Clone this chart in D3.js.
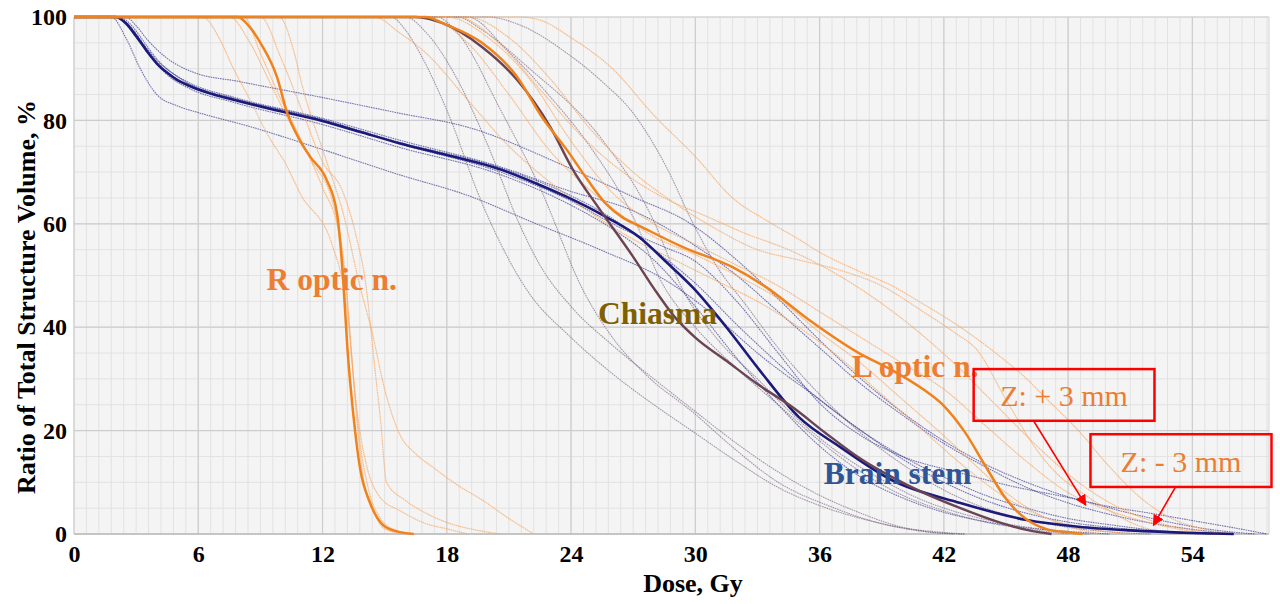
<!DOCTYPE html>
<html>
<head>
<meta charset="utf-8">
<script src="https://cdn.jsdelivr.net/npm/d3@7"></script>
<style>
  html, body { margin: 0; padding: 0; background: #ffffff; }
  svg { display: block; font-family: "Liberation Serif", "Times New Roman", serif; }
</style>
</head>
<body>
<svg id="chart" width="1280" height="604"></svg>
<script>
// ---- axis ticks ----
const doseTicks = [0, 6, 12, 18, 24, 30, 36, 42, 48, 54];
const volumeTicks = [0, 20, 40, 60, 80, 100];
const doseMax = 57.7;

// ---- DVH curves: [dose Gy, volume %] ----
// Brain stem: reference plan + shifted plans
const brainStem = [[0,100],[2.0,100],[2.5,98.8],[3.0,96.3],[3.5,93.5],[4.0,91],[4.5,89.2],[5.0,87.8],[5.5,86.8],[6.5,85.3],[7.7,84],[9.5,82.2],[11.9,80],[13.8,77.8],[15.7,75.6],[18,73.3],[20.6,70.5],[22.2,68],[23.8,65.2],[25.7,61.3],[27.3,57.4],[28.6,52.6],[29.9,47.6],[31.5,40],[33.1,31.7],[35,22.6],[37,16.8],[39.5,10.4],[42.8,6],[46,2.7],[48.5,1.4],[51,0.7],[54,0.2],[56,0]];
const brainStemA = [[0,100],[2.5,100],[3.0,98.3],[3.5,95.8],[4.5,92],[5.7,89.4],[8,87.5],[11.9,84.5],[15.7,81.4],[19,78.7],[23.8,71],[27,65.2],[29.7,60.2],[32,53],[34,45.5],[36,37.5],[38,30],[40,23.5],[42,18],[44,13.5],[46,10],[48,7.2],[50,5.3],[52,4],[54,2.6],[56,1.2],[57.6,0]];
const brainStemB = [[0,100],[1.8,100],[2.5,96],[3.2,90],[4,85],[5,82.8],[6.1,81.4],[8.5,78.8],[11.9,74.5],[15.7,69.5],[19,65.5],[22.2,60.2],[25.4,55],[28.6,49],[31,42],[33,35],[36,26],[38,20],[40,14.5],[42,10],[44,6.5],[46,4],[48,2.3],[50,1.3],[52,0.6],[54,0.1],[55,0]];
const brainStemC = [[0,100],[2.1,100],[2.6,98.6],[3.1,96],[3.6,93],[4.1,90.4],[4.6,88.5],[5.5,86.3],[7.7,83.5],[11.9,79.3],[15.7,74.8],[20.6,69.5],[23.8,64],[26,59],[28,53],[30,44],[32,34],[34,25],[36,17],[38,11],[40,7],[42,4.2],[44,2.4],[46,1.2],[48,0.5],[50,0]];
const brainStemD = [[0,100],[2.0,100],[2.5,98.9],[3.0,96.6],[3.5,94],[4.0,91.6],[4.6,89.6],[5.5,87.4],[7.7,84.5],[11.9,80.5],[15.7,76.2],[20.6,71],[23.8,66.5],[27,62.5],[29.9,56],[32,50],[34,43],[36,36],[38,29],[40,23],[42,17.5],[44,13],[46,9],[48,6],[50,3.8],[52,2.1],[54,0.9],[56,0]];
const brainStemE = [[0,100],[2.1,100],[2.6,98.7],[3.1,96.2],[3.6,93.3],[4.1,90.8],[4.6,89],[5.5,86.8],[7.7,84.2],[11.9,80.2],[15.7,75.8],[20.6,70.8],[23.8,65.8],[26,61],[28,55],[30,48.5],[32,40.5],[34,33],[36,26],[38,20],[40,15],[42,11],[44,7.5],[46,5],[48,3],[50,1.8],[52,0.8],[54,0.2],[55,0]];
const brainStemF = [[0,100],[2.2,100],[2.7,98.7],[3.2,96.2],[3.7,93.4],[4.2,91],[4.8,89],[5.5,87.2],[7.7,84.3],[11.9,80.3],[15.7,75.5],[20.6,70],[23.8,64.8],[26.5,59],[28.5,55.5],[29.9,53],[32,45],[34,35],[36,25.3],[38,19],[40,15],[42.8,11.8],[45,9.5],[48.5,6.6],[51,4],[53,2.2],[55,0.8],[57,0]];

// Chiasma
const chiasma = [[0,100],[16.5,100],[17.8,98.8],[19.7,94.2],[21.4,87.8],[23,78.7],[24.1,70.4],[25.4,62.7],[27,53.6],[28,47.5],[29,42],[30,38],[31.5,33.5],[33,29],[34.7,24.5],[36.3,19.5],[38,14.5],[39.5,11],[41,8],[42.8,5],[44.5,2.5],[46,0.8],[47.2,0]];
const chiasmaA = [[0,100],[15.3,100],[16,97.5],[16.7,93],[18,82],[19.7,64],[21.9,47],[24,38],[26,31],[28,25],[30,19.5],[32,14],[34,9],[36,5.5],[38,3],[40,1.2],[42,0.3],[43,0]];
const chiasmaB = [[0,100],[17.5,100],[18.5,97],[20.6,82],[22.5,67],[24.6,47],[26,38],[27.7,30.5],[29.9,23.5],[31.8,16.8],[34,10],[36.6,5.2],[39,2],[41,0.5],[42.5,0]];
const chiasmaC = [[0,100],[19,100],[20.9,93.6],[22.9,85],[24.8,75.6],[27,61.3],[28.4,48.5],[30,40],[32,32],[34,25],[36,18],[38,12],[40,7.5],[42,4.5],[44,2.3],[46,1],[48,0]];
const chiasmaD = [[0,100],[20,100],[21.5,98.5],[23.8,93],[25.5,87.5],[27,81.4],[28.6,71],[29.9,60],[31,52],[32.5,44],[34,36],[36,27],[38,19.5],[40,13.5],[42,8.5],[44,5],[46,2.8],[48,1.3],[50,0.4],[52,0]];
const chiasmaE = [[0,100],[18.5,100],[19.7,97.5],[22,90],[25.4,76.8],[27.9,61.3],[29.4,47.2],[31,38],[33,30],[35,22],[37,15.5],[39,10.5],[41,6.5],[43,3.8],[45,2],[47,0.8],[49,0]];
const chiasmaF = [[0,100],[16,100],[17,97],[18.5,88],[20,75],[21.5,60],[22.5,52],[24,44],[26,36.5],[28,30],[29.9,24],[32,17.5],[34,12],[36,7.5],[38,4],[39.9,1.4],[41.5,0.3],[43,0]];

// Right optic nerve
const rOptic = [[0,100],[7.9,100],[8.5,98],[9,95],[9.8,88.4],[10.3,81.4],[10.9,76.2],[11.4,73],[12.2,68.5],[12.7,62],[13,49],[13.2,36],[13.5,22.6],[13.8,13],[14.3,6],[14.9,1.8],[15.5,0.6],[16.4,0]];
const rOpticA = [[0,100],[6.2,100],[7,96],[7.7,90],[8.5,84],[9.3,77.6],[10.3,71],[10.9,66],[12.5,55.5],[13.2,42.7],[13.5,30],[13.8,18],[14.2,9],[14.8,3],[15.5,0.8],[16.5,0]];
const rOpticB = [[0,100],[9.9,100],[10.6,93.6],[11,87],[12.2,72],[13,62],[13.8,48],[14.4,38.9],[15,28],[15.7,19.5],[16.5,15.5],[17.3,13],[18.5,9.5],[19.7,6.6],[21,3],[22.2,0]];
const rOpticC = [[0,100],[9,100],[10,92],[11,82],[12,72],[13,66],[13.6,58],[14.1,48],[14.5,33],[14.8,22],[15.1,9.9],[16,6.5],[17,4],[18.1,2.1],[19.5,0.7],[20.6,0]];
const rOpticD = [[0,100],[8.2,100],[9,93],[10,84],[11,76],[12,67],[12.8,58],[13.2,45],[13.5,30],[13.8,20],[14.1,13.7],[14.8,7],[15.7,4.6],[17,2],[18,1],[19,0]];
const rOpticE = [[0,100],[7.5,100],[8.5,95],[9.5,87],[10.5,79],[11.5,72],[12.5,64],[13.1,50],[13.4,35],[13.7,20],[14,10],[14.5,4],[15,1],[16,0]];

// Left optic nerve
const lOptic = [[0,100],[17,100],[17.8,98.8],[19.7,95],[21.4,88.4],[22.6,80.6],[23.8,74.3],[24.8,68.5],[25.7,63.8],[26.5,61.2],[27.3,59.6],[29.4,55.5],[31.8,51.6],[33.4,47.8],[35.5,41.4],[37.9,35],[39.5,31.7],[41,28],[42,24.8],[43,19.8],[44,13.2],[45,6.8],[46,2.8],[47,0.9],[48,0.3],[48.7,0]];
const lOpticA = [[0,100],[21.5,100],[22.5,99.4],[24,96],[26,90],[28,81],[30,73],[31.8,65],[33.5,60.5],[35,57],[36,54.5],[37.8,51],[39.5,48],[41,44.5],[42.8,40],[44.5,35],[46,30],[47,26],[48.5,20],[50,13],[51.5,7],[53,3],[54.5,1],[56,0]];
const lOpticB = [[0,100],[19,100],[21,96],[23,88],[25,78],[27,70],[29,64],[31,59],[33,55],[35,53],[37,51],[39,48],[41,43],[42.5,39],[43.6,35.6],[45,26],[46.5,16.2],[47.5,11.5],[48.7,7.9],[50,4.5],[51.1,2.1],[53,0]];
const lOpticC = [[0,100],[18,100],[20,96],[22,88],[24,76],[26,66],[28,60],[30,56],[32,52],[34,48],[36,43],[38,38],[40,33],[42,28],[44,21],[46,14],[48,8],[50,4.5],[52,2.1],[54,0.5],[55,0]];
const lOpticD = [[0,100],[14.5,100],[15.7,97],[17,93],[19,84],[21,75],[23,68],[25,62],[27,57],[29,53],[31,49],[33,45],[35,40],[37,34],[39,27],[41,20],[43,13],[45,7],[47,3],[49,1],[51,0]];
const lOpticE = [[0,100],[17,100],[19,95],[21,85],[23,74],[24.5,68],[26,63],[28,57.5],[30,54],[32,50],[34,45.5],[36,39],[38,33],[40,26],[42,19],[43.6,13],[45,8],[46.5,4],[48,1.5],[49.5,0]];
const lOpticF = [[0,100],[18.5,100],[20.5,95],[22.5,86],[24.5,77],[26.5,70],[28.5,65],[30.5,61.5],[32.5,58],[34.5,55],[36.5,51],[38.5,46],[40.5,40],[42.5,33],[44.5,25],[46.5,17],[48.5,10],[50.5,5],[52.5,2],[54.5,0.5],[56,0]];

// Structure labels: [text, dose, volume]
const structureLabels = [
  ["R optic n.", 9.3, 47.2],
  ["Chiasma", 25.3, 40.6],
  ["L optic n.", 37.55, 30.4],
  ["Brain stem", 36.2, 9.7]
];
// Shift callouts: [text, box dose0, box vol0, box dose1, box vol1, arrow from (dose, vol), arrow to (dose, vol)]
const shiftNotes = [
  ["Z: + 3 mm", 43.44, 31.9, 52.17, 21.9, 46.33, 21.9, 48.85, 5.6],
  ["Z: - 3 mm", 49.08, 19.3, 57.82, 9.1, 53.19, 9.1, 52.12, 1.7]
];

// ---- layout ----
const svg = d3.select("#chart");
const x = d3.scaleLinear().domain([0, doseMax]).range([74, 1269]);
const y = d3.scaleLinear().domain([0, 100]).range([534, 17]);

// plot background
svg.append("rect")
  .attr("x", x(0)).attr("y", y(100))
  .attr("width", x(doseMax) - x(0)).attr("height", y(0) - y(100))
  .attr("fill", "#f4f4f4");

// grid
const grid = svg.append("g");
const minorX = d3.range(0, doseMax + 0.01, 0.6);
const minorY = d3.range(0, 100.1, 5);
grid.selectAll(".mx").data(minorX).join("line")
  .attr("x1", d => x(d)).attr("x2", d => x(d))
  .attr("y1", y(0)).attr("y2", y(100))
  .attr("stroke", "#e2e2e2").attr("stroke-width", 1);
grid.selectAll(".my").data(minorY).join("line")
  .attr("x1", x(0)).attr("x2", x(doseMax))
  .attr("y1", d => y(d)).attr("y2", d => y(d))
  .attr("stroke", "#e2e2e2").attr("stroke-width", 1);
grid.selectAll(".Mx").data(doseTicks).join("line")
  .attr("x1", d => x(d)).attr("x2", d => x(d))
  .attr("y1", y(0)).attr("y2", y(100))
  .attr("stroke", "#cdcdcd").attr("stroke-width", 1.2);
grid.selectAll(".My").data(volumeTicks).join("line")
  .attr("x1", x(0)).attr("x2", x(doseMax))
  .attr("y1", d => y(d)).attr("y2", d => y(d))
  .attr("stroke", "#cdcdcd").attr("stroke-width", 1.2);
grid.append("line")
  .attr("x1", x(0)).attr("x2", x(doseMax)).attr("y1", y(0)).attr("y2", y(0))
  .attr("stroke", "#bdbdbd").attr("stroke-width", 1.5);
grid.append("line")
  .attr("x1", x(doseMax)).attr("x2", x(doseMax)).attr("y1", y(0)).attr("y2", y(100))
  .attr("stroke", "#d4d4d4").attr("stroke-width", 1);

// curves
const line = d3.line().x(d => x(d[0])).y(d => y(d[1])).curve(d3.curveMonotoneX);
const styles = {
  bsThin:  { stroke: "#2e2e8c", width: 1.1, opacity: 0.65, dash: "1.6,0.8" },
  chThin:  { stroke: "#6e5a78", width: 1.1, opacity: 0.6,  dash: "1.6,0.8" },
  onThin:  { stroke: "#f6a560", width: 1.2, opacity: 0.7,  dash: "1.6,0.6" },
  bs:      { stroke: "#1b1a7a", width: 2.6, opacity: 1 },
  ch:      { stroke: "#6a4452", width: 2.4, opacity: 1 },
  on:      { stroke: "#f0821c", width: 2.5, opacity: 1 }
};
const curves = [
  [brainStemA, "bsThin"], [brainStemB, "bsThin"], [brainStemC, "bsThin"],
  [brainStemD, "bsThin"], [brainStemE, "bsThin"], [brainStemF, "bsThin"],
  [chiasmaA, "chThin"], [chiasmaB, "chThin"], [chiasmaC, "chThin"],
  [chiasmaD, "chThin"], [chiasmaE, "chThin"], [chiasmaF, "chThin"],
  [rOpticA, "onThin"], [rOpticB, "onThin"], [rOpticC, "onThin"],
  [rOpticD, "onThin"], [rOpticE, "onThin"],
  [lOpticA, "onThin"], [lOpticB, "onThin"], [lOpticC, "onThin"],
  [lOpticD, "onThin"], [lOpticE, "onThin"], [lOpticF, "onThin"],
  [brainStem, "bs"], [chiasma, "ch"], [rOptic, "on"], [lOptic, "on"]
];
const curveLayer = svg.append("g");
curves.forEach(([data, key]) => {
  const s = styles[key];
  const p = curveLayer.append("path")
    .attr("d", line(data))
    .attr("fill", "none")
    .attr("stroke", s.stroke)
    .attr("stroke-width", s.width)
    .attr("stroke-opacity", s.opacity)
    .attr("stroke-linejoin", "round");
  if (s.dash) p.attr("stroke-dasharray", s.dash);
});

// axes
const xAxis = d3.axisBottom(x).tickValues(doseTicks).tickSize(0).tickPadding(11);
const yAxis = d3.axisLeft(y).tickValues(volumeTicks).tickSize(0).tickPadding(7);
const gx = svg.append("g").attr("transform", `translate(0,${y(0)})`).call(xAxis);
const gy = svg.append("g").attr("transform", `translate(${x(0)},0)`).call(yAxis);
[gx, gy].forEach(g => {
  g.select(".domain").remove();
  g.selectAll("text")
    .attr("font-family", "Liberation Serif, Times New Roman, serif")
    .attr("font-size", 24).attr("font-weight", "bold").attr("fill", "#000");
});

svg.append("text")
  .attr("x", 693).attr("y", 592)
  .attr("text-anchor", "middle")
  .attr("font-size", 26).attr("font-weight", "bold").attr("fill", "#000")
  .text("Dose, Gy");
svg.append("text")
  .attr("transform", "translate(35,297) rotate(-90)")
  .attr("text-anchor", "middle")
  .attr("font-size", 26).attr("font-weight", "bold").attr("fill", "#000")
  .text("Ratio of Total Structure Volume, %");

// structure labels
const labelColors = { "R optic n.": "#ed7d31", "Chiasma": "#7f6000", "L optic n.": "#ed7d31", "Brain stem": "#2f5597" };
svg.selectAll(".slabel").data(structureLabels).join("text")
  .attr("x", d => x(d[1])).attr("y", d => y(d[2]))
  .attr("font-size", 31.5).attr("font-weight", "bold")
  .attr("fill", d => labelColors[d[0]])
  .text(d => d[0]);

// shift callouts
const defs = svg.append("defs");
defs.append("marker")
  .attr("id", "arrowRed").attr("viewBox", "0 0 10 10")
  .attr("refX", 9).attr("refY", 5)
  .attr("markerWidth", 7).attr("markerHeight", 7)
  .attr("markerUnits", "strokeWidth")
  .attr("orient", "auto")
  .append("path").attr("d", "M0,0 L10,5 L0,10 z").attr("fill", "#ff0000");

const notes = svg.append("g");
shiftNotes.forEach(n => {
  const [t, d0, v0, d1, v1, ad0, av0, ad1, av1] = n;
  notes.append("rect")
    .attr("x", x(d0)).attr("y", y(v0))
    .attr("width", x(d1) - x(d0)).attr("height", y(v1) - y(v0))
    .attr("fill", "none").attr("stroke", "#ff0000").attr("stroke-width", 2.5);
  notes.append("text")
    .attr("x", (x(d0) + x(d1)) / 2).attr("y", (y(v0) + y(v1)) / 2 + 11)
    .attr("text-anchor", "middle")
    .attr("font-size", 30).attr("fill", "#ed7d31")
    .text(t);
  notes.append("line")
    .attr("x1", x(ad0)).attr("y1", y(av0))
    .attr("x2", x(ad1)).attr("y2", y(av1))
    .attr("stroke", "#ff0000").attr("stroke-width", 1.6)
    .attr("marker-end", "url(#arrowRed)");
});
</script>
</body>
</html>
